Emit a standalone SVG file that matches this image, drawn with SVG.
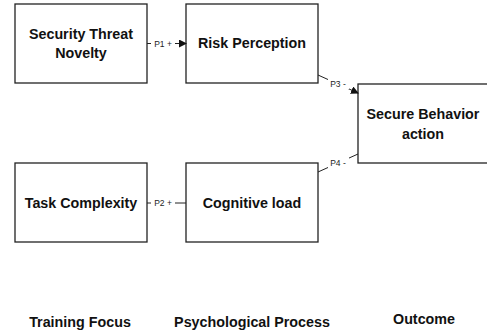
<svg xmlns="http://www.w3.org/2000/svg" width="487" height="333" viewBox="0 0 487 333">
<style>
.box{fill:#fff;stroke:#222;stroke-width:1.3}
.t{font-family:"Liberation Sans",Arial,sans-serif;font-weight:bold;font-size:14.3px;fill:#111;text-anchor:middle}
.c{fill:none;stroke:#222;stroke-width:1}
.lb{font-family:"Liberation Sans",Arial,sans-serif;font-size:8.5px;fill:#222;text-anchor:middle}
</style>
<defs>
<marker id="ah" markerWidth="8" markerHeight="8" refX="7" refY="4" orient="auto" markerUnits="userSpaceOnUse">
<path d="M0,0 L8,4 L0,8 Z" fill="#111"/>
</marker>
</defs>
<rect width="487" height="333" fill="#fff"/>
<g id="n1"><rect class="box" x="15" y="4" width="132" height="79"/><text class="t" x="81" y="39">Security Threat</text><text class="t" x="81" y="58">Novelty</text></g>
<g id="n2"><rect class="box" x="186" y="4" width="132" height="79"/><text class="t" x="252" y="48">Risk Perception</text></g>
<g id="n3"><rect class="box" x="358" y="84" width="140" height="79"/><text class="t" x="423" y="119">Secure Behavior</text><text class="t" x="423" y="139">action</text></g>
<g id="n4"><rect class="box" x="15" y="163" width="132" height="79"/><text class="t" x="81" y="208">Task Complexity</text></g>
<g id="n5"><rect class="box" x="186" y="163" width="132" height="79"/><text class="t" x="252" y="208">Cognitive load</text></g>
<g id="connectors">
<line class="c" x1="147" y1="43.5" x2="186" y2="43.5" marker-end="url(#ah)"/>
<rect x="151" y="38" width="24" height="11" fill="#fff"/>
<text class="lb" x="163" y="46.5">P1 +</text>
<line class="c" x1="147" y1="203" x2="186" y2="203"/>
<rect x="151" y="197" width="24" height="11" fill="#fff"/>
<text class="lb" x="163" y="206">P2 +</text>
<line class="c" x1="318" y1="75" x2="358" y2="93" marker-end="url(#ah)"/>
<rect x="328" y="78" width="21" height="11" fill="#fff"/>
<text class="lb" x="338" y="87">P3 -</text>
<line class="c" x1="318" y1="172" x2="358" y2="154"/>
<rect x="328" y="157" width="21" height="11" fill="#fff"/>
<text class="lb" x="338" y="166">P4 -</text>
</g>
<g id="labels">
<text class="t" x="80" y="327">Training Focus</text>
<text class="t" x="252" y="327">Psychological Process</text>
<text class="t" x="424" y="324">Outcome</text>
</g>
</svg>
